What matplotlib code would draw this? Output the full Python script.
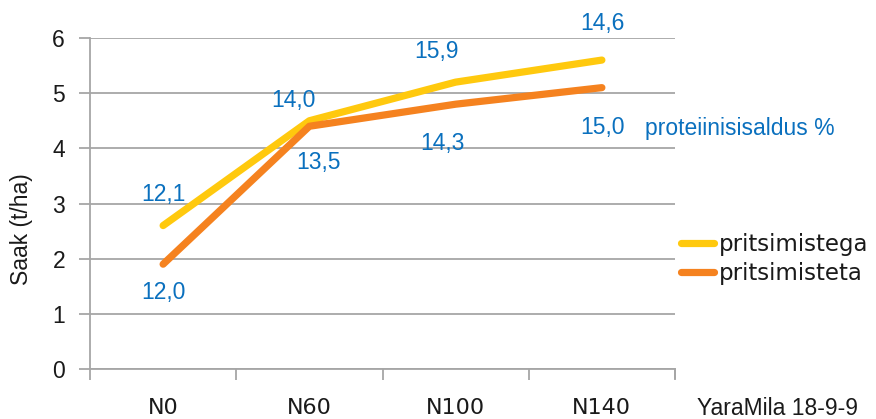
import matplotlib
matplotlib.use("Agg")
import matplotlib.pyplot as plt
import numpy as np

categories = ["N0", "N60", "N100", "N140"]
with_spray = [2.6, 4.5, 5.2, 5.6]
without_spray = [1.9, 4.4, 4.8, 5.1]
protein_with = ["12,1", "14,0", "15,9", "14,6"]
protein_without = ["12,0", "13,5", "14,3", "15,0"]
series_names = ["pritsimistega", "pritsimisteta"]

plt.rcParams["font.family"] = ["DejaVu Sans"]
FS = 16.5
ink = "#1a1a1a"
arial = "Liberation Sans"

fig = plt.figure(figsize=(8.76, 4.19), dpi=100)
ax = fig.add_axes([90 / 876, 1 - 369 / 419, 585 / 876, 331 / 419])

x = np.arange(len(categories))
yellow = "#FFC90E"
orange = "#F5821F"
blue = "#0A70BE"
grid = "#A6A6A6"

ax.plot(x, with_spray, color=yellow, lw=5.2, solid_capstyle="round", label=series_names[0], zorder=3)
ax.plot(x, without_spray, color=orange, lw=5.2, solid_capstyle="round", label=series_names[1], zorder=3)

ax.set_xlim(-0.5, len(categories) - 0.5)
ax.set_ylim(0, 6)
ax.set_yticks(range(0, 7))
ax.yaxis.grid(True, color=grid, lw=1.3)
ax.set_axisbelow(True)
ax.spines["top"].set_visible(False)
for s in ["left", "bottom", "right"]:
    ax.spines[s].set_color(grid)
    ax.spines[s].set_linewidth(1.3)
ax.spines["right"].set_bounds(-0.16, 0)

# category ticks sit on the boundaries, labels in the middle
ax.set_xticks(np.arange(-0.5, len(categories)))
ax.set_xticklabels([])
ax.set_xticks(x, minor=True)
ax.set_xticklabels(categories, minor=True)
ax.tick_params(axis="x", which="major", length=8, width=1.3, color=grid)
ax.tick_params(axis="x", which="minor", length=0, pad=21, labelsize=16, labelcolor=ink)
ax.tick_params(axis="y", length=8, width=1.3, color=grid, labelsize=FS, labelcolor=ink, pad=10)
for lbl in ax.get_yticklabels():
    lbl.set_family(arial)

ax.set_ylabel("Saak (t/ha)", fontsize=FS, color=ink, family=arial)
ax.yaxis.set_label_coords(-57 / 585, (369 - 229.5) / 331)

# protein content labels, offsets in pixels from the data point
with_off = [(0, 31), (-16, 20), (-19, 31), (1, 37)]
without_off = [(0, -28), (9, -36), (-13, -39), (1, -40)]
for i in range(len(categories)):
    ax.annotate(protein_with[i], (x[i], with_spray[i]), xytext=with_off[i], textcoords="offset pixels",
                ha="center", va="center", fontsize=FS, color=blue, family=arial)
    ax.annotate(protein_without[i], (x[i], without_spray[i]), xytext=without_off[i], textcoords="offset pixels",
                ha="center", va="center", fontsize=FS, color=blue, family=arial)

fig.text(645 / 876, 1 - 128 / 419, "proteiinisisaldus %", fontsize=FS, color=blue, va="center", ha="left",
         family=arial)
fig.text(697 / 876, 1 - 408 / 419, "YaraMila 18-9-9", fontsize=FS, color=ink, va="center", ha="left",
         family=arial)

leg = fig.legend(loc="center left", bbox_to_anchor=(681 / 876, 1 - 259 / 419), frameon=False,
                 fontsize=FS, handlelength=1.45, handletextpad=0.2, labelspacing=0.3,
                 borderpad=0, borderaxespad=0)
for t in leg.get_texts():
    t.set_color(ink)

fig.savefig("out.png", dpi=100)
